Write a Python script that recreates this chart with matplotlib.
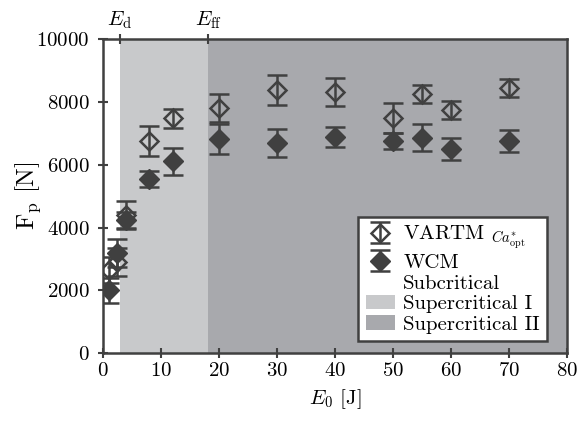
import matplotlib
matplotlib.use("Agg")
from matplotlib import pyplot as plt
from matplotlib.patches import Patch

# fonts: computer modern look
plt.rcParams['font.family'] = 'serif'
plt.rcParams['font.serif'] = ['cmr10']
plt.rcParams['mathtext.fontset'] = 'cm'
plt.rcParams['axes.formatter.use_mathtext'] = True

# data
energy = [1, 2.5, 4, 8, 12, 20, 30, 40, 50, 55, 60, 70]
vartm = [2650, 2900, 4400, 6750, 7480, 7800, 8380, 8310, 7490, 8250, 7740, 8440]
vartm_err = [400, 450, 450, 470, 300, 450, 490, 450, 480, 290, 290, 290]
wcm = [2000, 3200, 4250, 5540, 6110, 6820, 6690, 6880, 6750, 6850, 6500, 6750]
wcm_err = [400, 450, 250, 260, 430, 480, 450, 310, 250, 430, 350, 350]

e_d = 2.9
e_ff = 18.2
regions = ["Subcritical", "Supercritical I", "Supercritical II"]
region_colors = ["white", "#c8c9cb", "#a8a9ad"]

dark = "#404040"

fig = plt.figure(figsize=(5.78, 4.24), dpi=100)
ax = fig.add_axes([0.178, 0.167, 0.803, 0.741])

# background regions
ax.axvspan(e_d, e_ff, color=region_colors[1], lw=0, zorder=0)
ax.axvspan(e_ff, 80, color=region_colors[2], lw=0, zorder=0)

ax.errorbar(energy, vartm, yerr=vartm_err, fmt='D', mfc='none', mec=dark,
            mew=1.8, ms=9, ecolor=dark, elinewidth=1.8, capsize=7.5,
            capthick=1.8, zorder=3, label=r'VARTM $_{Ca^{*}_{\mathrm{opt}}}$')
ax.errorbar(energy, wcm, yerr=wcm_err, fmt='D', mfc=dark, mec=dark,
            ms=10, ecolor=dark, elinewidth=1.8, capsize=7.5,
            capthick=1.8, zorder=3, label='WCM')

ax.set_xlim(0, 80)
ax.set_ylim(0, 10000)
ax.set_xticks(range(0, 81, 10))
ax.set_yticks(range(0, 10001, 2000))
ax.tick_params(direction='inout', length=7, width=1.5, color=dark,
               labelsize=15, pad=3)
ax.tick_params(axis='y', pad=6)
for s in ax.spines.values():
    s.set_color(dark)
    s.set_linewidth(1.8)

ax.set_xlabel(r'$E_0$ [J]', fontsize=15, labelpad=5)
ax.set_ylabel(r'$\mathrm{F}_\mathrm{p}$ [N]', fontsize=18)
ax.yaxis.set_label_coords(-0.13, 0.5)

# top ticks for critical energies
top = ax.secondary_xaxis('top')
top.set_xticks([e_d, e_ff])
top.set_xticklabels([r'$E_\mathrm{d}$', r'$E_\mathrm{ff}$'])
top.tick_params(direction='inout', length=7, width=1.5, color=dark,
                labelsize=15, pad=2)
top.spines['top'].set_visible(False)

handles, labels = ax.get_legend_handles_labels()
for name, c in zip(regions, region_colors):
    handles.append(Patch(facecolor=c, edgecolor='none'))
    labels.append(name)
leg = ax.legend(handles, labels, loc='lower right', fontsize=15,
                frameon=True, fancybox=False, framealpha=1,
                borderpad=0.35, labelspacing=0.1, handletextpad=0.4,
                handlelength=1.4, borderaxespad=0,
                bbox_to_anchor=(0.957, 0.038))
leg.get_frame().set_edgecolor(dark)
leg.get_frame().set_linewidth(1.8)

fig.savefig("out.png", dpi=100)
